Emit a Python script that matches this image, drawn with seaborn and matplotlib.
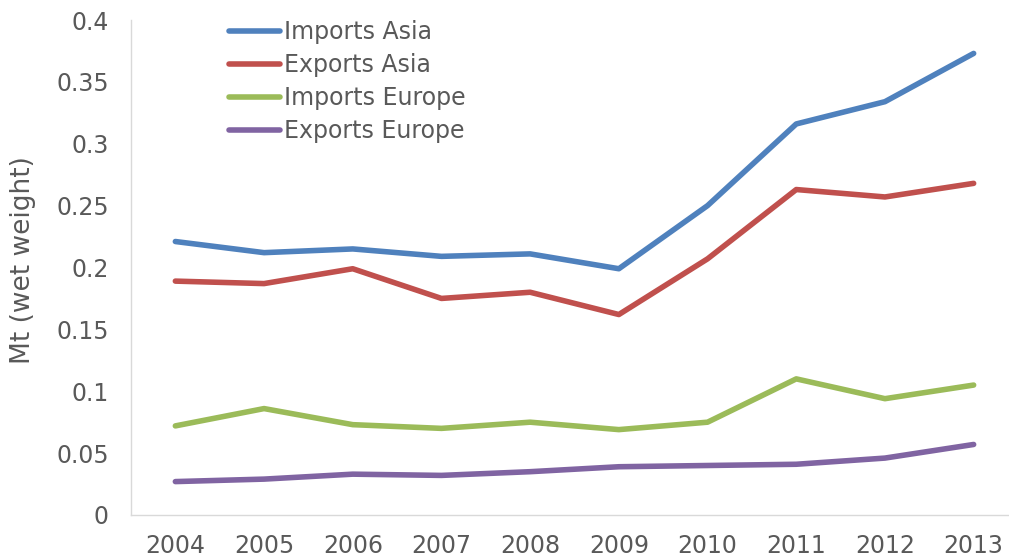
import pandas as pd
import matplotlib.pyplot as plt
import seaborn as sns

years = [2004, 2005, 2006, 2007, 2008, 2009, 2010, 2011, 2012, 2013]
imports_asia = [0.221, 0.212, 0.215, 0.209, 0.211, 0.199, 0.250, 0.316, 0.334, 0.373]
exports_asia = [0.189, 0.187, 0.199, 0.175, 0.180, 0.162, 0.207, 0.263, 0.257, 0.268]
imports_europe = [0.072, 0.086, 0.073, 0.070, 0.075, 0.069, 0.075, 0.110, 0.094, 0.105]
exports_europe = [0.027, 0.029, 0.033, 0.032, 0.035, 0.039, 0.040, 0.041, 0.046, 0.057]

series_names = ['Imports Asia', 'Exports Asia', 'Imports Europe', 'Exports Europe']
colors = ['#4F81BD', '#C0504D', '#9BBB59', '#8064A2']

# long format for seaborn, x as category position
df = pd.DataFrame({
    'pos': list(range(len(years))) * 4,
    'value': imports_asia + exports_asia + imports_europe + exports_europe,
    'series': [s for s in series_names for _ in years],
})

sns.set_style('white')
plt.rcParams['font.family'] = ['DejaVu Sans']

fig = plt.figure(figsize=(10.09, 5.58), dpi=100)
# plot area runs past the right edge of the image, like the original
ax = fig.add_axes([131 / 1009, 43 / 558, 887 / 1009, 495 / 558])

sns.lineplot(data=df, x='pos', y='value', hue='series', hue_order=series_names,
             palette=colors, linewidth=4, ax=ax, solid_capstyle='round')

ax.set_xlim(-0.5, 9.5)
ax.set_ylim(0, 0.4)
ax.set_yticks([0, 0.05, 0.1, 0.15, 0.2, 0.25, 0.3, 0.35, 0.4])
ax.set_yticklabels(['0', '0.05', '0.1', '0.15', '0.2', '0.25', '0.3', '0.35', '0.4'])
ax.set_xticks(range(len(years)))
ax.set_xticklabels([str(y) for y in years])
ax.set_xticks([i - 0.5 for i in range(len(years) + 1)], minor=True)

txt = '#595959'
grid = '#D9D9D9'
ax.tick_params(axis='x', which='major', length=0, pad=14, labelsize=17, labelcolor=txt)
ax.tick_params(axis='x', which='minor', length=5, color=grid, width=1, direction='out')
ax.tick_params(axis='y', length=5, color=grid, width=1, pad=11, labelsize=17,
               labelcolor=txt, direction='out')

for side in ['top', 'right']:
    ax.spines[side].set_visible(False)
for side in ['left', 'bottom']:
    ax.spines[side].set_color(grid)
    ax.spines[side].set_linewidth(1)

ax.set_xlabel('')
ax.set_ylabel('Mt (wet weight)', fontsize=19, color=txt)
ax.yaxis.set_label_coords(-0.107, 0.515)

leg = ax.legend(loc='upper left', bbox_to_anchor=(0.111, 1.0), frameon=False,
                fontsize=17, handlelength=2.15, handletextpad=0.15, labelspacing=0.38,
                borderaxespad=0, borderpad=0)
for t in leg.get_texts():
    t.set_color(txt)
for h in leg.get_lines():
    h.set_linewidth(4)
    h.set_solid_capstyle('round')

fig.savefig('out.png', dpi=100)
